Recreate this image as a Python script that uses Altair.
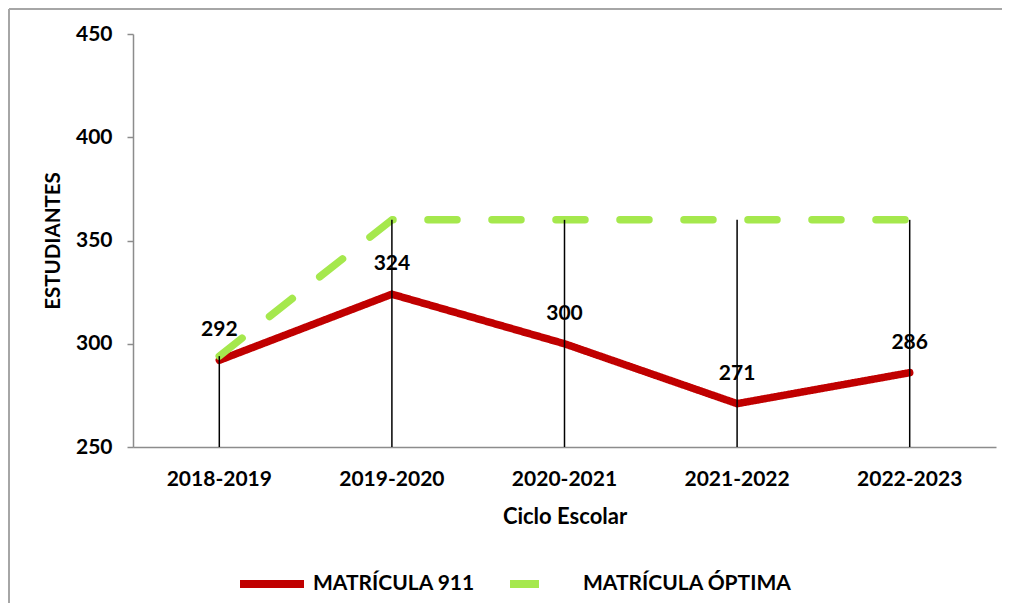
import altair as alt
import pandas as pd
import numpy as np

cycles = ["2018-2019", "2019-2020", "2020-2021", "2021-2022", "2022-2023"]
matricula_911 = [292, 324, 300, 271, 286]
matricula_optima = [294, 360, 360, 360, 360]
series_names = ["MATRÍCULA 911", "MATRÍCULA ÓPTIMA"]
y_ticks = [250, 300, 350, 400, 450]

FONT = "Lato"
W, H = 863, 413

long_df = pd.DataFrame({
    "ciclo": cycles * 2,
    "valor": matricula_911 + matricula_optima,
    "serie": [series_names[0]] * len(cycles) + [series_names[1]] * len(cycles),
})
drop_df = pd.DataFrame({
    "ciclo": cycles,
    "top": np.maximum(matricula_911, matricula_optima),
})
label_df = pd.DataFrame({"ciclo": cycles, "valor": matricula_911})

x_enc = alt.X(
    "ciclo:N",
    sort=cycles,
    scale=alt.Scale(paddingInner=0, paddingOuter=0),
    axis=alt.Axis(
        title="Ciclo Escolar",
        labelAngle=0,
        ticks=False,
        labelPadding=21,
        titleX=W / 2,
        titleY=69,
        titleFontSize=22,
        titleBaseline="middle",
        titleAlign="center",
    ),
)
y_scale = alt.Scale(domain=[250, 450], nice=False, zero=False)

lines = alt.Chart(long_df).mark_line(strokeWidth=7.5, strokeCap="round", strokeJoin="round").encode(
    x=x_enc,
    y=alt.Y(
        "valor:Q",
        scale=y_scale,
        axis=alt.Axis(
            title="ESTUDIANTES",
            values=y_ticks,
            grid=False,
            tickSize=6,
            labelPadding=15,
            titleAngle=-90,
            titleX=-80,
            titleY=H / 2,
            titleFontSize=20.5,
            titleAlign="center",
            titleBaseline="middle",
        ),
    ),
    color=alt.Color(
        "serie:N",
        scale=alt.Scale(domain=series_names, range=["#c00000", "#a5e84d"]),
        legend=alt.Legend(
            title=None,
            orient="none",
            direction="horizontal",
            legendX=103,
            legendY=514,
            symbolType="stroke",
            symbolSize=4096,
            symbolStrokeWidth=8,
            labelFontSize=21,
            labelFont=FONT,
            labelFontWeight="bold",
            labelColor="black",
            labelOffset=5,
            columnPadding=19,
            padding=0,
            labelLimit=400,
        ),
    ),
    strokeDash=alt.StrokeDash(
        "serie:N",
        scale=alt.Scale(domain=series_names, range=[[1, 0], [29, 35]]),
        legend=None,
    ),
)

drops = alt.Chart(drop_df).mark_rule(color="black", strokeWidth=1.5).encode(
    x=alt.X("ciclo:N", sort=cycles),
    y=alt.Y("top:Q", scale=y_scale),
    y2=alt.datum(250),
)

labels = alt.Chart(label_df).mark_text(
    dy=-30, fontSize=21, font=FONT, fontWeight="bold", color="black"
).encode(
    x=alt.X("ciclo:N", sort=cycles),
    y=alt.Y("valor:Q", scale=y_scale),
    text=alt.Text("valor:Q"),
)

frame_left = alt.Chart(label_df).mark_rule(color="#a6a6a6", strokeWidth=2).encode(
    x=alt.value(-124), y=alt.value(-25), y2=alt.value(H + 300)
)
frame_top = alt.Chart(label_df).mark_rule(color="#a6a6a6", strokeWidth=2).encode(
    x=alt.value(-124), x2=alt.value(W + 6), y=alt.value(-25)
)

chart = alt.layer(lines, drops, labels, frame_left, frame_top).properties(
    width=W,
    height=H,
    autosize=alt.AutoSizeParams(type="none"),
    padding={"left": 125, "top": 26, "right": 6, "bottom": 156},
    background="white",
).configure_view(stroke=None).configure_axis(
    labelFont=FONT,
    labelFontSize=21,
    labelFontWeight="bold",
    labelColor="black",
    titleFont=FONT,
    titleFontSize=19,
    titleFontWeight="bold",
    titleColor="black",
    domainColor="#8c8c8c",
    domainWidth=1.5,
    tickColor="#8c8c8c",
    tickWidth=1.5,
)

chart.save("out.html", embed_options={"renderer": "svg", "actions": False})
